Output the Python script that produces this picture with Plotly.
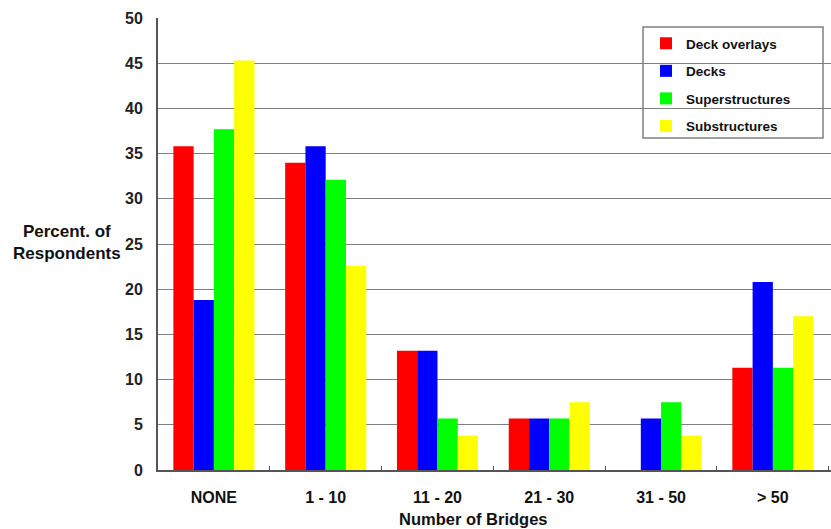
import plotly.graph_objects as go

categories = ["NONE", "1 - 10", "11 - 20", "21 - 30", "31 - 50", "> 50"]
deck_overlays = [35.8, 34.0, 13.2, 5.7, 0.0, 11.3]
decks = [18.8, 35.8, 13.2, 5.7, 5.7, 20.8]
superstructures = [37.7, 32.1, 5.7, 5.7, 7.5, 11.3]
substructures = [45.3, 22.6, 3.8, 7.5, 3.8, 17.0]
y_ticks = [0, 5, 10, 15, 20, 25, 30, 35, 40, 45, 50]

series = [
    ("Deck overlays", deck_overlays, "#ff0000"),
    ("Decks", decks, "#0000ff"),
    ("Superstructures", superstructures, "#00ff00"),
    ("Substructures", substructures, "#ffff00"),
]

FONT = "Liberation Sans, Arial, sans-serif"

fig = go.Figure()
for i, (name, vals, col) in enumerate(series):
    fig.add_trace(go.Bar(x=categories, y=vals, name=name, marker_color=col,
                         marker_line_width=0, legendgroup=f"g{i}"))

W, H = 831, 529
L, R, T, B = 158, 0, 18, 59
pw, ph = W - L - R, H - T - B

def px(x):
    return (x - L) / pw

def py(y):
    return (H - B - y) / ph

fig.update_layout(
    width=W, height=H,
    margin=dict(l=L, r=R, t=T, b=B),
    paper_bgcolor="white", plot_bgcolor="white",
    barmode="group", bargap=0.275, bargroupgap=0,
    font=dict(family=FONT, color="#1a1a1a"),
    showlegend=True,
    legend=dict(
        x=px(646), y=py(28), xanchor="left", yanchor="top",
        bgcolor="rgba(0,0,0,0)", borderwidth=0,
        font=dict(size=13.5, family=FONT, color="#111", weight="bold"),
        itemwidth=30, tracegroupgap=7, traceorder="grouped",
    ),
    xaxis=dict(
        range=[-0.5, 5.52],
        showgrid=False, showline=True, linecolor="#555", linewidth=2,
        ticks="inside", tickson="boundaries", ticklen=4, tickcolor="#555",
        tickfont=dict(size=16, family=FONT, color="#111", weight="bold"),
        ticklabelstandoff=12,
    ),
    yaxis=dict(
        range=[0, 50], tickvals=y_ticks,
        showgrid=True, gridcolor="#808080", gridwidth=1,
        showline=True, linecolor="#555", linewidth=2,
        ticks="", zeroline=False,
        tickfont=dict(size=16, family=FONT, color="#222", weight="bold"),
        ticklabelstandoff=10,
    ),
    shapes=[dict(type="rect", xref="paper", yref="paper",
                 x0=px(643), x1=px(823), y0=py(138), y1=py(27),
                 line=dict(color="#808080", width=1.5), fillcolor="white",
                 layer="below")],
    annotations=[
        dict(text="Percent. of<br>Respondents", xref="paper", yref="paper",
             x=px(67), y=py(242), xanchor="center", yanchor="middle",
             showarrow=False, align="center",
             font=dict(size=17, family=FONT, color="#111", weight="bold")),
        dict(text="Number of Bridges", xref="paper", yref="paper",
             x=px(473), y=py(519), xanchor="center", yanchor="middle",
             showarrow=False,
             font=dict(size=16.5, family=FONT, color="#111", weight="bold")),
    ],
)

fig.write_html("out.html")
